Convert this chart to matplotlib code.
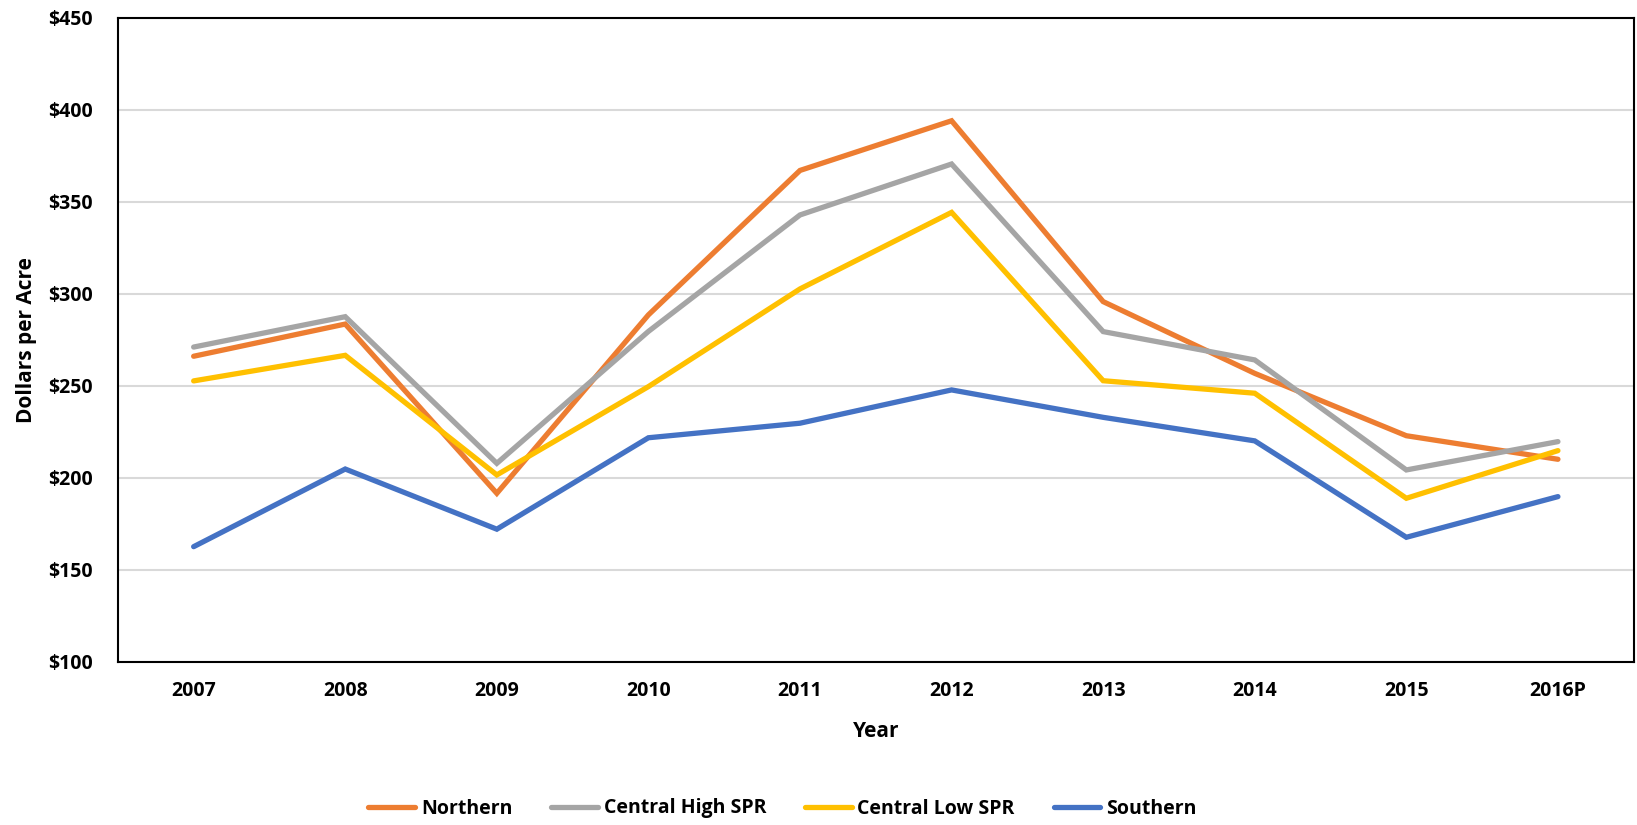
import matplotlib
matplotlib.use("Agg")
import matplotlib.pyplot as plt
from matplotlib.ticker import FuncFormatter, MultipleLocator

years = ["2007", "2008", "2009", "2010", "2011", "2012", "2013", "2014", "2015", "2016P"]
northern = [266, 283.5, 191.5, 288.5, 367, 394, 295.7, 256.7, 222.8, 210]
central_high = [271, 287.5, 207.8, 279.5, 342.8, 370.5, 279.4, 264, 204.2, 219.6]
central_low = [252.6, 266.5, 201.5, 249.5, 302.6, 344.2, 252.7, 245.9, 188.8, 214.7]
southern = [162.5, 204.7, 172, 221.7, 229.6, 247.7, 232.8, 220, 167.6, 189.7]

series_names = ["Northern", "Central High SPR", "Central Low SPR", "Southern"]
series_values = [northern, central_high, central_low, southern]
colors = ["#ED7D31", "#A5A5A5", "#FFC000", "#4472C4"]

plt.rcParams["font.family"] = ["Open Sans", "DejaVu Sans"]

fig = plt.figure(figsize=(16.37, 8.25), dpi=100)
ax = fig.add_axes([0.072, 0.198, 0.926, 0.7805])

x = list(range(len(years)))
for name, vals, c in zip(series_names, series_values, colors):
    ax.plot(x, vals, color=c, lw=3.8, label=name, solid_capstyle="round", solid_joinstyle="miter")

ax.set_xlim(-0.5, len(years) - 0.5)
ax.set_ylim(100, 450)
ax.yaxis.set_major_locator(MultipleLocator(50))
ax.yaxis.set_major_formatter(FuncFormatter(lambda v, p: f"${v:.0f}"))
ax.set_xticks(x)
ax.set_xticklabels(years)
ax.grid(axis="y", color="#D9D9D9", lw=1.5)
ax.set_axisbelow(True)
ax.tick_params(length=0, labelsize=14, pad=14)
ax.tick_params(axis="y", pad=18)
for lab in ax.get_xticklabels() + ax.get_yticklabels():
    lab.set_fontweight("bold")
for s in ax.spines.values():
    s.set_color("black")
    s.set_linewidth(1.5)

ax.set_xlabel("Year", fontsize=15, fontweight="bold", labelpad=14)
ax.set_ylabel("Dollars per Acre", fontsize=15, fontweight="bold", labelpad=8)

fig.legend(loc="center", bbox_to_anchor=(0.478, 0.02), ncol=4, frameon=False,
           prop={"weight": "bold", "size": 14}, handlelength=2.4,
           columnspacing=2.0, handletextpad=0.3)

fig.savefig("out.png", dpi=100)
